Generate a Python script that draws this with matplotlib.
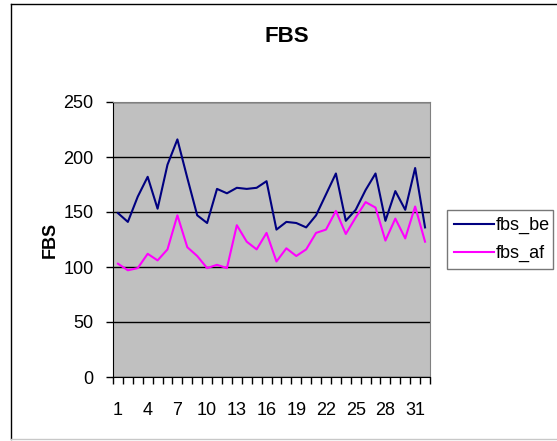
import matplotlib
matplotlib.use("Agg")
import matplotlib.pyplot as plt
from matplotlib.lines import Line2D
import numpy as np

plt.rcParams['font.family'] = ['Liberation Sans', 'DejaVu Sans']

# data
days = list(range(1, 33))
fbs_be = [149, 141, 164, 182, 153, 193, 216, 181, 147, 140, 171, 167, 172, 171, 172, 178,
          134, 141, 140, 136, 147, 166, 185, 142, 152, 170, 185, 142, 169, 152, 190, 136]
fbs_af = [103, 97, 99, 112, 106, 116, 147, 118, 110, 99, 102, 99, 138, 123, 116, 131,
          105, 117, 110, 116, 131, 134, 151, 130, 145, 159, 154, 124, 144, 126, 155, 123]
xlabels = [1, 4, 7, 10, 13, 16, 19, 22, 25, 28, 31]
yticks = [0, 50, 100, 150, 200, 250]

W, H = 557, 441
fig = plt.figure(figsize=(W / 100, H / 100), dpi=100)
ax = fig.add_axes([113 / W, 1 - 377 / H, (430 - 113) / W, (377 - 102) / H])
ax.set_facecolor('#c0c0c0')

ax.plot(days, fbs_be, color='#000080', lw=1.5, label='fbs_be')
ax.plot(days, fbs_af, color='#ff00ff', lw=1.5, label='fbs_af')

ax.set_xlim(0.5, 32.5)
ax.set_ylim(0, 250)
ax.set_yticks(yticks)
ax.yaxis.grid(True, color='black', lw=1)
ax.set_axisbelow(True)

ax.set_xticks(xlabels)
ax.set_xticklabels([str(v) for v in xlabels])
ax.set_xticks(np.arange(0.5, 33, 1), minor=True)
ax.tick_params(axis='x', which='major', length=0, pad=18, labelsize=13)
ax.tick_params(axis='x', which='minor', length=5, width=1, direction='out')
ax.tick_params(axis='y', length=5, width=1, pad=9, labelsize=13)

for s in ['left', 'bottom']:
    ax.spines[s].set_color('black')
for s in ['top', 'right']:
    ax.spines[s].set_color('#808080')

ax.set_ylabel('FBS', fontsize=13, fontweight='bold', labelpad=3)
fig.text(287 / W, 1 - 36 / H, 'FBS', fontsize=16, fontweight='bold', ha='center', va='center')

leg = ax.legend(loc='center left', bbox_to_anchor=(447 / W, 1 - 271 / H, (553 - 447) / W, (271 - 208) / H),
                bbox_transform=fig.transFigure, mode='expand', fontsize=13, frameon=True, fancybox=False,
                handlelength=2.2, handletextpad=0.1, borderpad=0.4, labelspacing=0.6, borderaxespad=0)
leg.get_frame().set_edgecolor('#555555')
leg.get_frame().set_linewidth(1)

# chart area border
fig.add_artist(Line2D([11 / W, 11 / W], [1 - 4 / H, 1 - 439 / H], color='black', lw=1, transform=fig.transFigure))
fig.add_artist(Line2D([11 / W, 1], [1 - 4 / H, 1 - 4 / H], color='black', lw=1, transform=fig.transFigure))
fig.add_artist(Line2D([11 / W, 1], [1 - 439 / H, 1 - 439 / H], color='#c8c8c8', lw=1, transform=fig.transFigure))

fig.savefig('out.png', dpi=100)
